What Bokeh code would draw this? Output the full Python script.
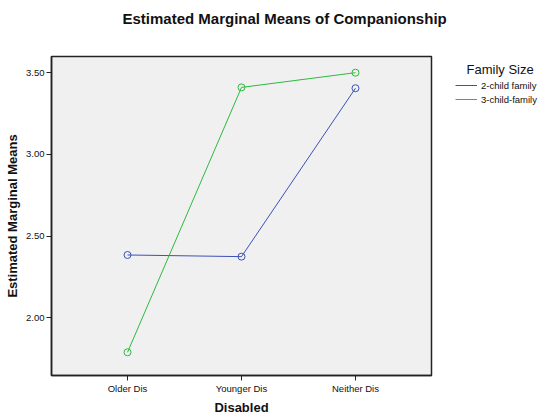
from bokeh.plotting import figure
from bokeh.layouts import row
from bokeh.models import Range1d, FixedTicker, Legend, LegendItem, Label, Title
from bokeh.embed import file_html
from bokeh.resources import INLINE

categories = ["Older Dis", "Younger Dis", "Neither Dis"]
two_child = [2.385, 2.375, 3.405]
three_child = [1.79, 3.41, 3.50]
y_ticks = [2.00, 2.50, 3.00, 3.50]
series_names = ["2-child family", "3-child-family"]
legend_title = "Family Size"
chart_title = "Estimated Marginal Means of Companionship"

FONT = "Liberation Sans"
BLUE = "#3b52b4"
GREEN = "#2cba3c"

xs = list(range(1, len(categories) + 1))

p = figure(width=453, height=417, output_backend="svg", toolbar_location=None,
           x_range=Range1d(0.333, 3.667), y_range=Range1d(1.648, 3.599),
           min_border_left=51, min_border_right=22, min_border_top=56, min_border_bottom=40)

p.background_fill_color = "#f0f0f0"
p.border_fill_color = "white"
p.outline_line_color = "#222222"
p.outline_line_width = 1.5
p.xgrid.visible = False
p.ygrid.visible = False

p.title.text = chart_title
p.title.text_font = FONT
p.title.text_font_size = "15px"
p.title.text_font_style = "bold"
p.title.text_color = "#111111"
p.title.align = "left"
p.title.offset = 71
p.title.standoff = 0

# blank spacer between the frame and the title
spacer = Title(text=" ", text_font_size="10px", standoff=17)
p.add_layout(spacer, "above")

p.xaxis.ticker = FixedTicker(ticks=xs)
p.xaxis.major_label_overrides = {x: c for x, c in zip(xs, categories)}
p.yaxis.ticker = FixedTicker(ticks=y_ticks)
p.yaxis.major_label_overrides = {t_: f"{t_:.2f}" for t_ in y_ticks}

for ax in (p.xaxis[0], p.yaxis[0]):
    ax.axis_line_color = "#222222"
    ax.axis_line_width = 1.5
    ax.major_tick_in = 0
    ax.major_tick_out = 5
    ax.major_tick_line_color = "#222222"
    ax.minor_tick_line_color = None
    ax.major_label_text_font = FONT
    ax.major_label_text_font_size = "9.5px"
    ax.major_label_text_color = "#111111"
    ax.major_label_standoff = 2
    ax.axis_label_text_font = FONT
    ax.axis_label_text_font_size = "13px"
    ax.axis_label_text_font_style = "bold"
    ax.axis_label_text_color = "#111111"
    ax.axis_label_standoff = 3

p.xaxis.axis_label = "Disabled"
p.yaxis.axis_label = "Estimated Marginal Means"

p.line(xs, two_child, line_color=BLUE, line_width=1)
p.scatter(xs, two_child, marker="circle", size=7, line_color=BLUE, fill_color=None, line_width=1)
p.line(xs, three_child, line_color=GREEN, line_width=1)
p.scatter(xs, three_child, marker="circle", size=7, line_color=GREEN, fill_color=None, line_width=1)

# legend panel (its frame is aligned with the main plot's frame by the row layout)
q = figure(width=90, height=417, output_backend="svg", toolbar_location=None,
           x_axis_type=None, y_axis_type=None,
           x_range=Range1d(0, 1), y_range=Range1d(0, 1),
           min_border_left=0, min_border_right=0, min_border_top=0, min_border_bottom=0)
q.outline_line_color = None
q.background_fill_color = "white"
q.border_fill_color = "white"
q.xgrid.visible = False
q.ygrid.visible = False
# same series, outside this panel's visible ranges: only their legend swatches show
d1 = q.line(xs, two_child, line_color=BLUE, line_width=1)
d2 = q.line(xs, three_child, line_color=GREEN, line_width=1)

legend = Legend(items=[LegendItem(label=series_names[0], renderers=[d1]),
                       LegendItem(label=series_names[1], renderers=[d2])],
                location=(2, 270))
legend.label_text_font = FONT
legend.label_text_font_size = "9.5px"
legend.label_text_color = "#111111"
legend.glyph_width = 22
legend.glyph_height = 12
legend.label_height = 12
legend.spacing = 2
legend.label_standoff = 4
legend.border_line_color = None
legend.background_fill_alpha = 0
legend.padding = 2
legend.margin = 0
q.add_layout(legend)

q.add_layout(Label(x=13, y=306, x_units="screen", y_units="screen", text=legend_title,
                   text_font=FONT, text_font_size="13px", text_color="#111111",
                   text_baseline="alphabetic"))

layout = row(p, q)
open("out.html", "w").write(file_html(layout, INLINE))
